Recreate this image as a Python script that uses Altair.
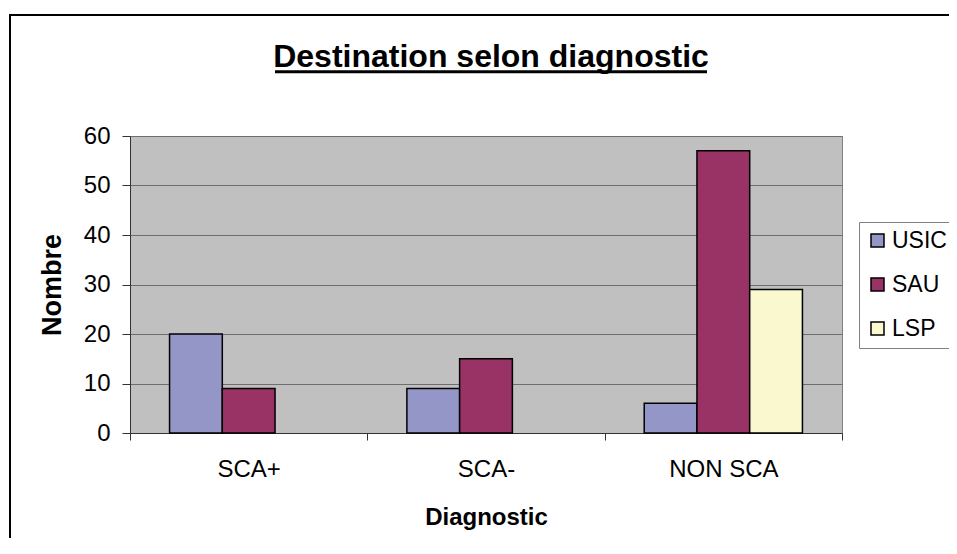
import altair as alt
import pandas as pd

categories = ["SCA+", "SCA-", "NON SCA"]
series = ["USIC", "SAU", "LSP"]
usic = [20, 9, 6]
sau = [9, 15, 57]
lsp = [0, 0, 29]
colors = ["#9596C8", "#993366", "#FAF8CF"]
y_ticks = [0, 10, 20, 30, 40, 50, 60]
title_text = "Destination selon diagnostic"

rows = []
for name, vals in zip(series, [usic, sau, lsp]):
    for c, v in zip(categories, vals):
        if v > 0:
            rows.append({"Diagnostic": c, "Destination": name, "Nombre": v})
df = pd.DataFrame(rows)

FONT = "Liberation Sans"
W, H = 712, 297

bars = alt.Chart(df).mark_bar(stroke="black", strokeWidth=1.5).encode(
    x=alt.X("Diagnostic:N", sort=categories,
            scale=alt.Scale(paddingInner=0, paddingOuter=0),
            axis=alt.Axis(title="Diagnostic", labelAngle=0, tickBand="extent",
                          tickSize=7, labelPadding=17, titlePadding=24,
                          labelFontSize=24, titleFontSize=24, titleFontWeight="bold",
                          labelFont=FONT, titleFont=FONT, labelColor="black", titleColor="black",
                          domainColor="#333333", tickColor="#333333", grid=False)),
    xOffset=alt.XOffset("Destination:N", sort=series,
                        scale=alt.Scale(domain=series, paddingInner=0, paddingOuter=0.75)),
    y=alt.Y("Nombre:Q", scale=alt.Scale(domain=[0, 60], nice=False),
            axis=alt.Axis(title="Nombre", values=y_ticks, tickSize=8, labelPadding=12,
                          titlePadding=17, labelFontSize=24, titleFontSize=27,
                          titleFontWeight="bold", labelFont=FONT, titleFont=FONT,
                          labelColor="black", titleColor="black",
                          domainColor="#333333", tickColor="#333333",
                          gridColor="#6E6E6E", gridWidth=1)),
    color=alt.Color("Destination:N", sort=series,
                    scale=alt.Scale(domain=series, range=colors),
                    legend=alt.Legend(title=None, orient="none", legendX=729, legendY=86,
                                      fillColor="white", strokeColor="#808080",
                                      padding=7, symbolType="square", symbolSize=169,
                                      symbolStrokeColor="black", symbolStrokeWidth=1.5,
                                      labelFontSize=23, labelFont=FONT, labelColor="black",
                                      rowPadding=20, labelOffset=3)),
)

title = alt.Chart(pd.DataFrame({"t": [title_text]})).mark_text(
    font=FONT, fontSize=32, fontWeight="bold", color="black",
    align="center", baseline="alphabetic"
).encode(text="t:N", x=alt.value(361), y=alt.value(-69.5))

underline = alt.Chart(pd.DataFrame({"a": [0]})).mark_rule(
    color="black", strokeWidth=3
).encode(x=alt.value(145), x2=alt.value(577), y=alt.value(-64.3))

border = alt.Chart(pd.DataFrame({"a": [0]})).mark_rect(
    fill=None, stroke="black", strokeWidth=2
).encode(x=alt.value(-120), x2=alt.value(900), y=alt.value(-121), y2=alt.value(600))

chart = alt.layer(bars, title, underline, border).properties(
    width=W, height=H,
    autosize=alt.AutoSizeParams(type="none"),
    padding={"left": 122, "top": 128, "right": 107, "bottom": 105},
    background="white",
).configure_view(fill="#C0C0C0", stroke="#808080", strokeWidth=1)

chart.save("out.html", embed_options={"renderer": "svg", "actions": False})
